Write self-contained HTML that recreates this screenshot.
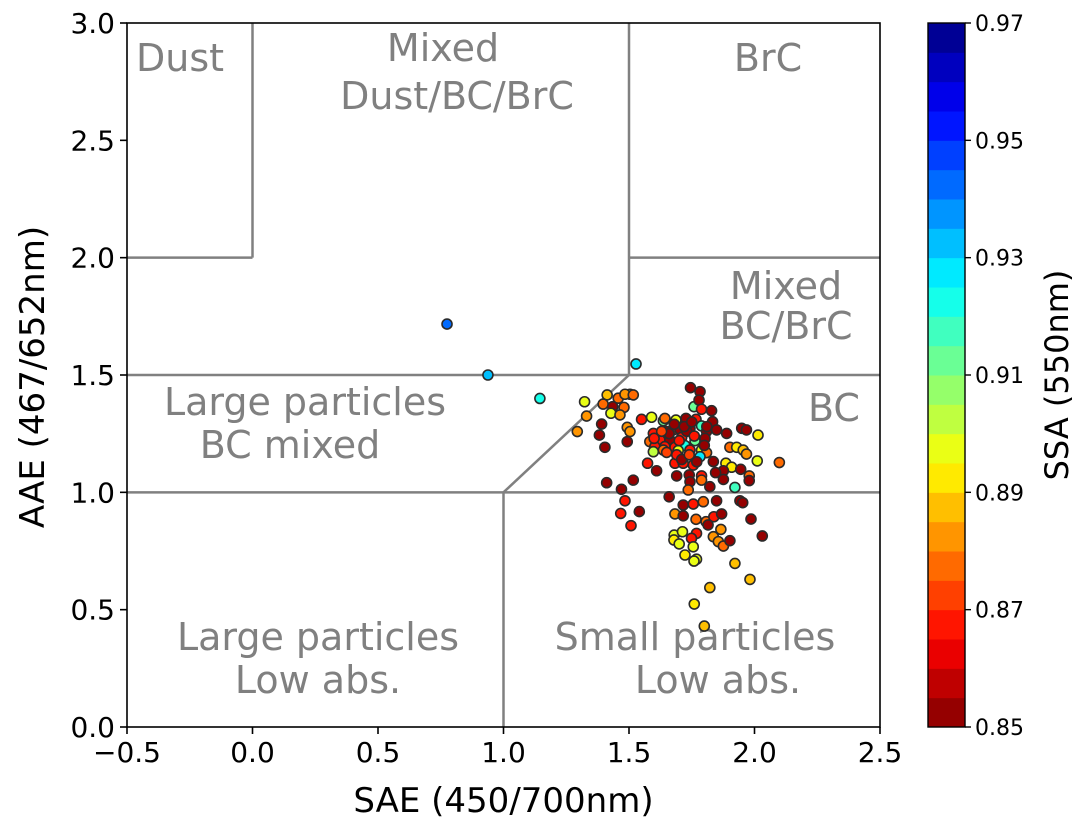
<!DOCTYPE html>
<html><head><meta charset="utf-8"><style>
body{margin:0;background:#fff;font-family:"Liberation Sans","DejaVu Sans",sans-serif}
svg text{font-family:"DejaVu Sans","Liberation Sans",sans-serif}
</style></head><body>
<svg id="chart" width="1085" height="829" viewBox="0 0 1085 829" xmlns="http://www.w3.org/2000/svg"></svg>
<script>
// data arrays
const sae = [1.528,1.745,1.783,1.323,1.413,1.457,1.504,1.484,1.517,1.397,1.435,1.480,1.428,1.464,1.331,1.759,1.779,1.789,1.829,1.550,1.590,1.637,1.643,1.687,1.727,1.767,1.833,1.789,1.391,1.493,1.504,1.294,1.382,1.889,1.949,1.968,2.014,1.597,1.650,1.676,1.703,1.743,1.809,1.849,1.583,1.623,1.663,1.710,1.763,1.803,1.723,1.683,1.643,1.603,1.597,1.637,1.696,1.743,1.789,1.809,1.404,1.493,1.902,1.929,1.955,1.968,2.011,2.099,1.574,1.610,1.683,1.716,1.756,1.783,1.836,1.886,1.909,1.945,1.876,1.845,1.690,1.740,1.789,1.979,1.979,1.876,1.743,1.789,1.922,1.822,1.411,1.517,1.470,1.660,1.736,1.484,1.716,1.756,1.796,1.849,1.942,1.953,1.541,1.467,1.683,1.716,1.767,1.807,1.838,1.869,1.815,1.986,1.508,1.866,1.769,1.680,1.713,1.679,1.749,1.700,1.836,1.856,1.876,1.902,2.031,1.756,1.723,1.769,1.759,1.922,1.982,1.822,1.760,1.800,1.66,1.70,1.73,1.76,1.63,1.68,1.72,1.60,1.75,1.69,1.65,1.71,1.77,1.80,1.81,1.74,0.775,0.938,1.145];
const aae = [1.547,1.446,1.429,1.386,1.415,1.401,1.418,1.418,1.415,1.376,1.365,1.362,1.337,1.33,1.325,1.365,1.393,1.354,1.348,1.311,1.32,1.305,1.315,1.308,1.315,1.311,1.301,1.283,1.291,1.277,1.259,1.259,1.244,1.251,1.273,1.266,1.244,1.251,1.259,1.266,1.268,1.273,1.259,1.266,1.216,1.223,1.223,1.234,1.22,1.23,1.199,1.192,1.195,1.195,1.173,1.18,1.178,1.18,1.18,1.169,1.192,1.216,1.192,1.192,1.18,1.163,1.134,1.127,1.124,1.092,1.124,1.124,1.116,1.152,1.131,1.124,1.107,1.098,1.092,1.084,1.07,1.074,1.07,1.07,1.05,1.055,1.045,1.052,1.021,1.024,1.041,1.052,1.013,0.981,1.01,0.964,0.946,0.95,0.96,0.964,0.964,0.956,0.918,0.91,0.908,0.9,0.885,0.875,0.896,0.908,0.861,0.886,0.858,0.842,0.825,0.818,0.832,0.797,0.804,0.78,0.811,0.79,0.771,0.794,0.814,0.768,0.733,0.715,0.707,0.697,0.629,0.594,0.524,0.43,1.25,1.22,1.26,1.24,1.26,1.29,1.28,1.23,1.30,1.16,1.17,1.14,1.13,1.20,1.28,1.16,1.717,1.50,1.40];
const ssa = [0.925,0.85,0.85,0.895,0.885,0.875,0.915,0.88,0.875,0.875,0.85,0.875,0.895,0.88,0.88,0.91,0.85,0.865,0.85,0.865,0.895,0.91,0.875,0.895,0.85,0.865,0.85,0.915,0.85,0.88,0.88,0.88,0.85,0.85,0.85,0.85,0.89,0.865,0.85,0.865,0.85,0.85,0.85,0.85,0.875,0.865,0.85,0.865,0.91,0.85,0.92,0.865,0.865,0.865,0.9,0.875,0.895,0.865,0.895,0.875,0.85,0.85,0.875,0.89,0.885,0.88,0.895,0.875,0.865,0.85,0.865,0.865,0.865,0.925,0.85,0.89,0.89,0.85,0.85,0.85,0.85,0.85,0.865,0.875,0.85,0.85,0.85,0.875,0.915,0.85,0.85,0.85,0.85,0.85,0.875,0.865,0.85,0.865,0.875,0.85,0.85,0.85,0.85,0.865,0.88,0.85,0.875,0.875,0.865,0.85,0.85,0.85,0.865,0.88,0.865,0.895,0.895,0.89,0.865,0.895,0.88,0.88,0.875,0.85,0.85,0.895,0.89,0.895,0.895,0.885,0.885,0.885,0.89,0.885,0.85,0.865,0.85,0.865,0.87,0.85,0.85,0.865,0.85,0.865,0.87,0.85,0.85,0.85,0.85,0.87,0.945,0.93,0.92];
const xTicks = [-0.5,0,0.5,1,1.5,2,2.5];
const xTickLabels = ["\u22120.5","0.0","0.5","1.0","1.5","2.0","2.5"];
const yTicks = [0,0.5,1,1.5,2,2.5,3];
const yTickLabels = ["0.0","0.5","1.0","1.5","2.0","2.5","3.0"];
const cbTicks = [0.85,0.87,0.89,0.91,0.93,0.95,0.97];
const cbTickLabels = ["0.85","0.87","0.89","0.91","0.93","0.95","0.97"];

const NS="http://www.w3.org/2000/svg", svg=document.getElementById('chart');
const X0=127,X1=880,Y0=727,Y1=23;
const xs=v=>X0+(v+0.5)/3*(X1-X0), ys=v=>Y0-v/3*(Y0-Y1);
const CB0=0.85,CB1=0.97,CBX=928,CBW=37;
const cs=v=>Y0-(v-CB0)/(CB1-CB0)*(Y0-Y1);
function el(t,a,p){const e=document.createElementNS(NS,t);for(const k in a)e.setAttribute(k,a[k]);(p||svg).appendChild(e);return e;}
function jet(t){const c=x=>Math.max(0,Math.min(1,x));
 const r=c(1.5-Math.abs(4*t-3)),g=c(1.5-Math.abs(4*t-2)),b=c(1.5-Math.abs(4*t-1));
 return `rgb(${Math.round(r*255)},${Math.round(g*255)},${Math.round(b*255)})`;}
const jetr=t=>jet(1-t);
const NL=24;
function colorOf(v){let i=Math.floor((v-CB0)/(CB1-CB0)*NL);i=Math.max(0,Math.min(NL-1,i));return jetr((i+0.5)/NL);}

// region lines
const segs=[[0,3,0,2],[-0.5,2,0,2],[1.5,3,1.5,1.5],[1.5,2,2.5,2],[-0.5,1.5,2.5,1.5],[-0.5,1,2.5,1],[1,1,1.5,1.5],[1,0,1,1]];
const gl=el('g',{});


segs.forEach(s=>{const l=el('line',{x1:xs(s[0]),y1:ys(s[1]),x2:xs(s[2]),y2:ys(s[3]),stroke:'#808080','stroke-width':2.5},gl);

});

// region labels
const labs=[["Dust",180,58],["Mixed",443,48],["Dust/BC/BrC",457,96],["BrC",768,58],["Mixed",786,286],["BC/BrC",786,326],["BC",834,408],["Large particles",305,402],["BC mixed",290,445],["Large particles",318,637],["Low abs.",318,680],["Small particles",695,637],["Low abs.",718,680]];
labs.forEach(a=>{const t=el('text',{x:a[1],y:a[2]+13,'text-anchor':'middle','font-size':38,fill:'#808080'});t.textContent=a[0];

});

// points
const gp=el('g',{});


for(let i=0;i<sae.length;i++){const c=el('circle',{cx:xs(sae[i]),cy:ys(aae[i]),r:5,fill:colorOf(ssa[i]),stroke:'#2a2a2a','stroke-width':1.6},gp);

}

// axes frame
const fr=el('rect',{x:X0,y:Y1,width:X1-X0,height:Y0-Y1,fill:'none',stroke:'#000','stroke-width':1.6});


xTicks.forEach((v,i)=>{el('line',{x1:xs(v),x2:xs(v),y1:Y0,y2:Y0+7,stroke:'#000','stroke-width':1.6});
const t=el('text',{x:xs(v),y:Y0+35,'text-anchor':'middle','font-size':28});t.textContent=xTickLabels[i];

});
yTicks.forEach((v,i)=>{el('line',{x1:X0-7,x2:X0,y1:ys(v),y2:ys(v),stroke:'#000','stroke-width':1.6});
const t=el('text',{x:X0-12,y:ys(v)+10,'text-anchor':'end','font-size':28});t.textContent=yTickLabels[i];

});
const xl=el('text',{x:(X0+X1)/2,y:812,'text-anchor':'middle','font-size':34});xl.textContent="SAE (450/700nm)";


const yl=el('text',{x:0,y:0,'text-anchor':'middle','font-size':34,transform:`translate(44,${(Y0+Y1)/2+2}) rotate(-90)`});yl.textContent="AAE (467/652nm)";



// colorbar
const gc=el('g',{});


for(let i=0;i<NL;i++){const a=CB0+i*(CB1-CB0)/NL,b=CB0+(i+1)*(CB1-CB0)/NL;
el('rect',{x:CBX,y:cs(b),width:CBW,height:cs(a)-cs(b)+0.5,fill:jetr((i+0.5)/NL)},gc);}
el('rect',{x:CBX,y:Y1,width:CBW,height:Y0-Y1,fill:'none',stroke:'#000','stroke-width':1.4},gc);
cbTicks.forEach((v,i)=>{el('line',{x1:CBX+CBW,x2:CBX+CBW+6,y1:cs(v),y2:cs(v),stroke:'#000','stroke-width':1.4},gc);
const t=el('text',{x:CBX+CBW+10,y:cs(v)+8,'font-size':22},gc);t.textContent=cbTickLabels[i];

});
const cl=el('text',{x:0,y:0,'text-anchor':'middle','font-size':32,transform:`translate(1068,${(Y0+Y1)/2}) rotate(-90)`});cl.textContent="SSA (550nm)";


</script>
</body></html>
